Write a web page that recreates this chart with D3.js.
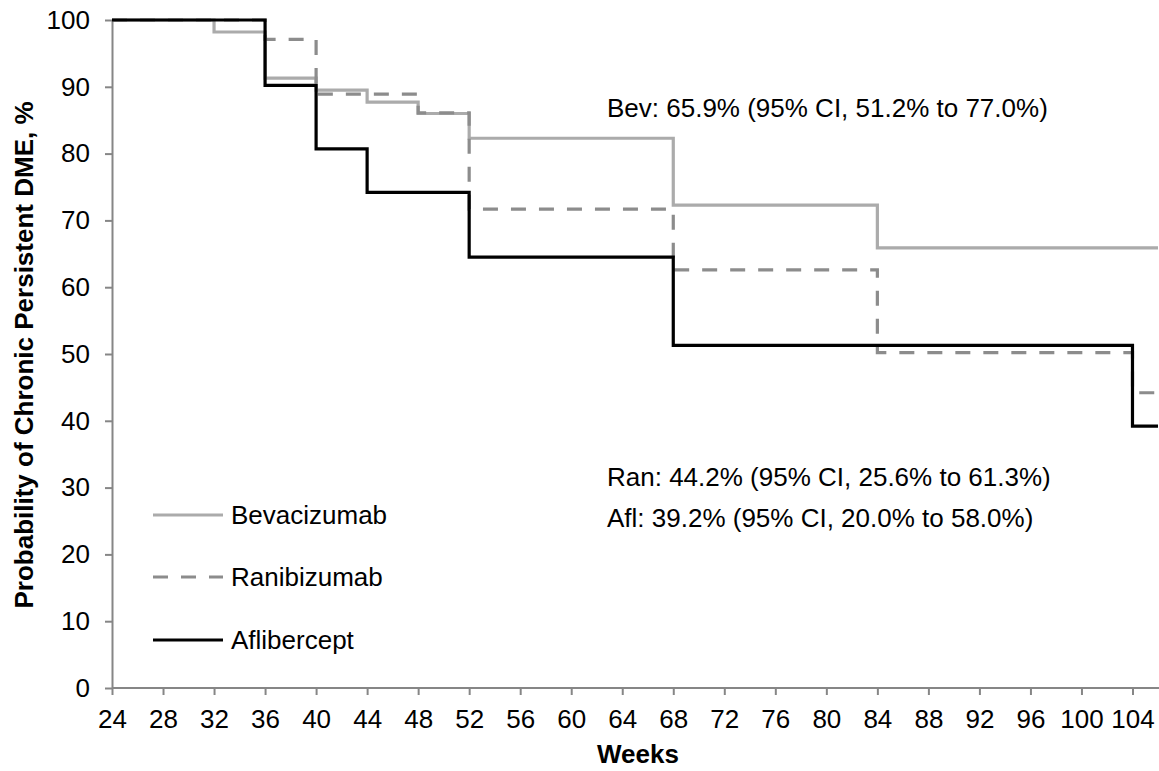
<!DOCTYPE html>
<html><head><meta charset="utf-8">
<script src="https://cdn.jsdelivr.net/npm/d3@7"></script>
<style>body{margin:0;background:#fff}svg{display:block;font-family:"Liberation Sans",Arial,sans-serif}</style>
</head><body>
<script>
const xTicks = [24,28,32,36,40,44,48,52,56,60,64,68,72,76,80,84,88,92,96,100,104];
const yTicks = [0,10,20,30,40,50,60,70,80,90,100];
const bevWeeks = [24,32,36,40,44,48,52,68,84,106];
const bevValues = [100,98.2,91.3,89.5,87.7,86.0,82.3,72.3,65.9,65.9];
const ranWeeks = [24,36,40,48,52,68,84,104,106];
const ranValues = [100,97.1,88.9,86.1,71.7,62.6,50.2,44.2,44.2];
const aflWeeks = [24,36,40,44,52,68,104,106];
const aflValues = [100,90.2,80.7,74.2,64.5,51.3,39.2,39.2];
const seriesNames = ["Bevacizumab","Ranibizumab","Aflibercept"];
const annotations = ["Bev: 65.9% (95% CI, 51.2% to 77.0%)","Ran: 44.2% (95% CI, 25.6% to 61.3%)","Afl: 39.2% (95% CI, 20.0% to 58.0%)"];

const W=1159,H=771,FS="26px";
const svg=d3.select("body").append("svg").attr("width",W).attr("height",H);
const x=d3.scaleLinear().domain([24,106]).range([112,1158]);
const y=d3.scaleLinear().domain([0,100]).range([688,20]);
const axisColor="#868686";

const gx=svg.append("g").attr("transform","translate(0,688)")
  .call(d3.axisBottom(x).tickValues(xTicks).tickSize(7).tickSizeOuter(0).tickPadding(15));
const gy=svg.append("g").attr("transform","translate(112,0)")
  .call(d3.axisLeft(y).tickValues(yTicks).tickSize(7).tickSizeOuter(0).tickPadding(15));
[gx,gy].forEach(g=>{
  g.select(".domain").attr("stroke",axisColor).attr("stroke-width",2);
  g.selectAll(".tick line").attr("stroke",axisColor).attr("stroke-width",2);
  g.selectAll(".tick text").attr("fill","#000").style("font-size",FS).style("font-family","'Liberation Sans',Arial,sans-serif");
});
gx.select(".domain").attr("d","M112,0H1159");

const styles=[
  {w:bevWeeks,v:bevValues,color:"#ababab",dash:null},
  {w:ranWeeks,v:ranValues,color:"#8c8c8c",dash:"15,13"},
  {w:aflWeeks,v:aflValues,color:"#000",dash:null}
];
const line=d3.line().x(d=>x(d[0])).y(d=>y(d[1])).curve(d3.curveStepAfter);
styles.forEach(s=>{
  svg.append("path").datum(s.w.map((w,i)=>[w,s.v[i]]))
    .attr("d",line).attr("fill","none").attr("stroke",s.color)
    .attr("stroke-width",3.2).attr("stroke-dasharray",s.dash);
});
const legY=[515,577,640];
seriesNames.forEach((n,i)=>{
  svg.append("line").attr("x1",153).attr("x2",223).attr("y1",legY[i]).attr("y2",legY[i])
    .attr("stroke",styles[i].color).attr("stroke-width",3.2).attr("stroke-dasharray",styles[i].dash);
  svg.append("text").attr("x",231).attr("y",legY[i]+9).style("font-size",FS).text(n);
});
const annY=[117,486,527];
annotations.forEach((t,i)=>{
  svg.append("text").attr("x",607).attr("y",annY[i]).style("font-size",FS).text(t);
});
svg.append("text").attr("x",638).attr("y",763).attr("text-anchor","middle")
  .style("font-size",FS).style("font-weight","bold").text("Weeks");
svg.append("text").attr("transform","translate(33,355) rotate(-90)").attr("text-anchor","middle")
  .style("font-size",FS).style("font-weight","bold").text("Probability of Chronic Persistent DME, %");
</script>
</body></html>
